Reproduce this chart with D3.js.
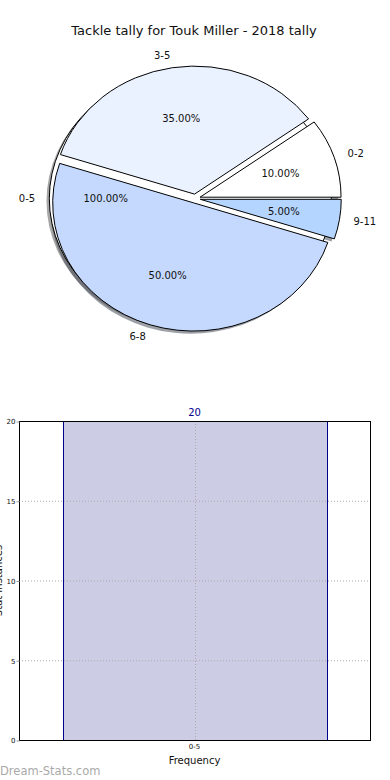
<!DOCTYPE html>
<html>
<head>
<meta charset="utf-8">
<script src="https://cdn.jsdelivr.net/npm/d3@7"></script>
<style>
  body { margin: 0; background: #fff; }
  svg { display: block; font-family: "DejaVu Sans", sans-serif; }
</style>
</head>
<body>
<script>
var w = 390; // page width
var h = 780; // page height

// Pie data (the first slice is the total, drawn behind the others)
var pieCategories = ["0-5", "0-2", "3-5", "6-8", "9-11"];
var pieCounts = [20, 2, 7, 10, 1];
var pieTotal = 20;
var pieColors = ["#ffffff", "#ffffff", "#ebf2ff", "#c5d9ff", "#b4d5ff"];

// Bar data
var barCategories = ["0-5"];
var barValues = [20];
var yTicks = [0, 5, 10, 15, 20];

var title = "Tackle tally for Touk Miller - 2018 tally";

var svg = d3.select("body")
    .append("svg")
    .attr("width", w)
    .attr("height", h);

// Title
svg.append("text")
    .attr("x", 194)
    .attr("y", 35)
    .attr("text-anchor", "middle")
    .attr("font-size", 13)
    .attr("fill", "#111")
    .text(title);

// ---- Pie (ellipse, as the axes are not square) ----
var cx = 195.3, cy = 198.6;
var rx = 141, ry = 128;
var k = ry / rx;
var explode = 5; // pixels along x radius
var shadowDx = -2.8, shadowDy = 2.6;

// angles counter-clockwise from 3 o'clock, fractions of the total
var slices = [];
var acc = 0;
pieCounts.forEach(function(v, i) {
    var frac = v / pieTotal;
    var t0 = acc * 2 * Math.PI;
    var t1 = (acc + frac) * 2 * Math.PI;
    acc += frac;
    slices.push({
        cat: pieCategories[i],
        frac: frac,
        t0: t0,
        t1: t1,
        tm: (t0 + t1) / 2,
        color: pieColors[i]
    });
});

var arc = d3.arc()
    .innerRadius(0)
    .outerRadius(rx)
    .startAngle(function(d) { return Math.PI / 2 - d.t0; })
    .endAngle(function(d) { return Math.PI / 2 - d.t1; });

// shadows
var shadowG = svg.append("g")
    .attr("transform", "translate(" + (cx + shadowDx) + "," + (cy + shadowDy) + ") scale(1," + k + ")");
shadowG.selectAll("path")
    .data(slices)
    .join("path")
    .attr("d", arc)
    .attr("transform", function(d) {
        return "translate(" + (explode * Math.cos(d.tm)) + "," + (-explode * Math.sin(d.tm)) + ")";
    })
    .attr("fill", function(d) {
        var c = d3.rgb(d.color);
        return d3.rgb(c.r * 0.3, c.g * 0.3, c.b * 0.3);
    })
    .attr("fill-opacity", 0.5);

// wedges
var pieG = svg.append("g")
    .attr("transform", "translate(" + cx + "," + cy + ") scale(1," + k + ")");
pieG.selectAll("path")
    .data(slices)
    .join("path")
    .attr("d", arc)
    .attr("transform", function(d) {
        return "translate(" + (explode * Math.cos(d.tm)) + "," + (-explode * Math.sin(d.tm)) + ")";
    })
    .attr("fill", function(d) { return d.color; })
    .attr("stroke", "#000")
    .attr("stroke-width", 1)
    .attr("vector-effect", "non-scaling-stroke");

function piePos(d, dist) {
    var r = explode + dist * rx;
    return [cx + r * Math.cos(d.tm), cy - r * k * Math.sin(d.tm)];
}

// category labels
svg.append("g").selectAll("text")
    .data(slices)
    .join("text")
    .attr("x", function(d) { return piePos(d, 1.1)[0]; })
    .attr("y", function(d) { return piePos(d, 1.1)[1]; })
    .attr("dy", "0.35em")
    .attr("text-anchor", function(d) { return Math.cos(d.tm) > 0 ? "start" : "end"; })
    .attr("font-size", 10)
    .attr("fill", "#111")
    .text(function(d) { return d.cat; });

// percentage labels
var pct = d3.format(".2f");
svg.append("g").selectAll("text")
    .data(slices)
    .join("text")
    .attr("x", function(d) { return piePos(d, 0.6)[0]; })
    .attr("y", function(d) { return piePos(d, 0.6)[1]; })
    .attr("dy", "0.35em")
    .attr("text-anchor", "middle")
    .attr("font-size", 10)
    .attr("fill", "#111")
    .text(function(d) { return pct(d.frac * 100) + "%"; });

// ---- Bar chart ----
var plotLeft = 19, plotRight = 370, plotTop = 421, plotBottom = 740;

var xScale = d3.scaleBand()
    .domain(barCategories)
    .range([plotLeft, plotRight])
    .padding(0.1415);

var yScale = d3.scaleLinear()
    .domain([0, 20])
    .range([plotBottom, plotTop]);

// bars
svg.append("g").selectAll("rect")
    .data(barValues)
    .join("rect")
    .attr("x", function(d, i) { return Math.round(xScale(barCategories[i])) + 0.5; })
    .attr("y", function(d) { return yScale(d) + 0.5; })
    .attr("width", Math.round(xScale.bandwidth()))
    .attr("height", function(d) { return plotBottom - yScale(d); })
    .attr("fill", "#ccccE5")
    .attr("stroke", "#00008b")
    .attr("stroke-width", 1);

// grid lines
svg.append("g").selectAll("line")
    .data(yTicks)
    .join("line")
    .attr("x1", plotLeft)
    .attr("x2", plotRight)
    .attr("y1", function(d) { return yScale(d) + 0.5; })
    .attr("y2", function(d) { return yScale(d) + 0.5; })
    .attr("stroke", "#aaa")
    .attr("stroke-dasharray", "1,2");

svg.append("g").selectAll("line")
    .data(barCategories)
    .join("line")
    .attr("x1", function(d) { return Math.round(xScale(d) + xScale.bandwidth() / 2) + 0.5; })
    .attr("x2", function(d) { return Math.round(xScale(d) + xScale.bandwidth() / 2) + 0.5; })
    .attr("y1", plotTop)
    .attr("y2", plotBottom)
    .attr("stroke", "#aaa")
    .attr("stroke-dasharray", "1,2");

// frame
svg.append("rect")
    .attr("x", plotLeft + 0.5)
    .attr("y", plotTop + 0.5)
    .attr("width", plotRight - plotLeft)
    .attr("height", plotBottom - plotTop)
    .attr("fill", "none")
    .attr("stroke", "#000");

// y axis
var yAxis = d3.axisLeft(yScale)
    .tickValues(yTicks)
    .tickSize(3)
    .tickPadding(1);
var yAxisG = svg.append("g")
    .attr("class", "y-axis")
    .attr("transform", "translate(" + (plotLeft + 0.5) + ",0.5)")
    .call(yAxis);
yAxisG.select(".domain").remove();
yAxisG.selectAll(".tick line").attr("stroke", "#999");
yAxisG.selectAll("text").attr("font-size", 7).attr("font-family", "DejaVu Sans").attr("fill", "#111");

// x axis
var xAxis = d3.axisBottom(xScale)
    .tickSize(0)
    .tickPadding(4);
var xAxisG = svg.append("g")
    .attr("class", "x-axis")
    .attr("transform", "translate(0," + plotBottom + ")")
    .call(xAxis);
xAxisG.select(".domain").remove();
xAxisG.selectAll("text").attr("font-size", 7).attr("font-family", "DejaVu Sans").attr("fill", "#111");

// value label
svg.append("g").selectAll("text")
    .data(barValues)
    .join("text")
    .attr("x", function(d, i) { return xScale(barCategories[i]) + xScale.bandwidth() / 2; })
    .attr("y", function(d) { return yScale(d) - 5; })
    .attr("text-anchor", "middle")
    .attr("font-size", 10)
    .attr("fill", "#00008b")
    .text(function(d) { return d; });

// axis labels
svg.append("text")
    .attr("x", (plotLeft + plotRight) / 2)
    .attr("y", 764)
    .attr("text-anchor", "middle")
    .attr("font-size", 10)
    .attr("fill", "#111")
    .text("Frequency");

svg.append("text")
    .attr("transform", "rotate(-90)")
    .attr("x", -(plotTop + plotBottom) / 2)
    .attr("y", 2)
    .attr("text-anchor", "middle")
    .attr("font-size", 10)
    .attr("fill", "#111")
    .text("Stat Instances");

// watermark
svg.append("text")
    .attr("x", 0)
    .attr("y", 775)
    .attr("font-size", 11.5)
    .attr("fill", "#aaa")
    .text("Dream-Stats.com");
</script>
</body>
</html>
